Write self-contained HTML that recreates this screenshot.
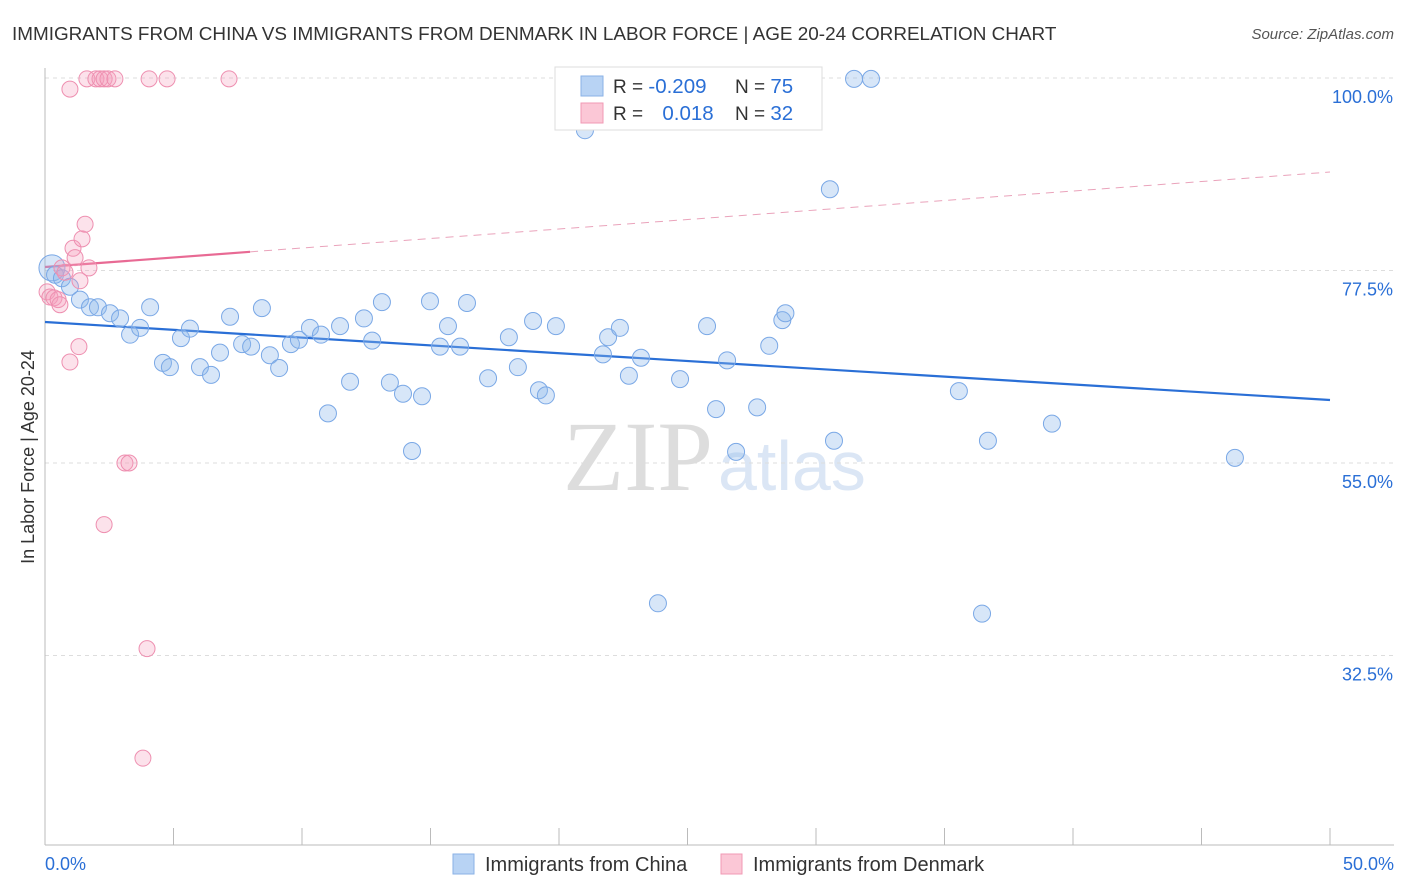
<!DOCTYPE html>
<html><head><meta charset="utf-8">
<style>
body{margin:0;background:#fff;font-family:"Liberation Sans",sans-serif;}
svg{display:block}
</style></head>
<body>
<svg id="chart" width="1406" height="892">
<text x="12" y="40" font-size="18.9" fill="#333">IMMIGRANTS FROM CHINA VS IMMIGRANTS FROM DENMARK IN LABOR FORCE | AGE 20-24 CORRELATION CHART</text>
<text x="1394" y="39" font-size="15" fill="#555" font-style="italic" text-anchor="end">Source: ZipAtlas.com</text>
<text x="713" y="490" font-size="100" fill="#ddd" text-anchor="end" font-family="Liberation Serif,serif">ZIP</text>
<text x="718" y="490" font-size="70" fill="#dbe6f5">atlas</text>
<text transform="translate(34,457) rotate(-90)" font-size="18" fill="#333" text-anchor="middle">In Labor Force | Age 20-24</text>
<g id="grid"></g><g id="axes"></g><g id="trend"></g><g id="pts"></g>
<g>
<rect x="555" y="67" width="267" height="63" fill="#fff" stroke="#ddd"/>
<rect x="581" y="76" width="22" height="20" fill="#b8d3f4" stroke="#8ab2e6"/>
<rect x="581" y="103" width="22" height="20" fill="#fbc7d6" stroke="#f09ab4"/>
<text x="613" y="93" font-size="19" fill="#333">R = <tspan fill="#2a6fd6" font-size="20.5">-0.209</tspan></text>
<text x="735" y="93" font-size="19" fill="#333">N = <tspan fill="#2a6fd6" font-size="20.5">75</tspan></text>
<text x="613" y="120" font-size="19" fill="#333">R = <tspan fill="#2a6fd6" font-size="20.5" dx="14">0.018</tspan></text>
<text x="735" y="120" font-size="19" fill="#333">N = <tspan fill="#2a6fd6" font-size="20.5">32</tspan></text>
</g>
<g>
<rect x="453" y="854" width="21" height="20" fill="#b8d3f4" stroke="#8ab2e6"/>
<text x="485" y="871" font-size="20" fill="#333">Immigrants from China</text>
<rect x="721" y="854" width="21" height="20" fill="#fbc7d6" stroke="#f09ab4"/>
<text x="753" y="871" font-size="20" fill="#333">Immigrants from Denmark</text>
</g>
</svg>
<script>
const yTicks=[100,77.5,55,32.5];
const xTickLabels=["0.0%","50.0%"];
const chinaX=[0.27,0.39,0.66,0.97,1.36,1.75,2.06,2.53,2.92,3.31,3.70,4.09,4.59,4.86,5.29,5.64,6.03,6.46,6.81,7.20,7.67,8.02,8.44,8.75,9.11,9.57,9.88,10.31,10.74,11.01,11.48,11.87,12.41,12.73,13.11,13.42,13.93,14.28,14.67,14.98,15.37,15.68,16.15,16.42,17.24,18.05,18.40,18.99,19.22,19.49,19.88,21.01,21.71,21.91,22.37,22.72,23.19,23.85,24.71,25.76,26.11,26.54,26.89,27.71,28.18,28.69,28.81,30.54,30.70,31.48,32.14,35.56,36.46,36.69,39.18,46.30];
const chinaY=[77.8,77.0,76.6,75.6,74.1,73.2,73.2,72.5,71.9,70.0,70.8,73.2,66.7,66.2,69.6,70.7,66.2,65.3,67.9,72.1,68.9,68.6,73.1,67.6,66.1,68.9,69.4,70.8,70.0,60.8,71.0,64.5,71.9,69.3,73.8,64.4,63.1,56.4,62.8,73.9,68.6,71.0,68.6,73.7,64.9,69.7,66.2,71.6,63.5,62.9,71.0,93.9,67.7,69.7,70.8,65.2,67.3,38.6,64.8,71.0,61.3,67.0,56.3,61.5,68.7,71.7,72.5,87.0,57.6,99.9,99.9,63.4,37.4,57.6,59.6,55.6];
const denX=[0.08,0.19,0.35,0.51,0.58,0.66,0.78,0.97,0.97,1.09,1.17,1.32,1.36,1.44,1.56,1.63,1.71,1.98,2.14,2.30,2.45,2.72,3.11,3.27,2.30,3.97,3.81,4.05,4.75,7.16];
const denY=[75.0,74.4,74.3,74.1,73.5,77.8,77.3,66.8,98.7,80.1,79.0,68.6,76.3,81.2,82.9,99.9,77.8,99.9,99.9,99.9,99.9,99.9,55.0,55.0,47.8,33.3,20.5,99.9,99.9,99.9];
const chinaTrend=[71.48,62.36];
const denTrend=[77.91,89.01];
const denSolidEnd=7.98;

const NS="http://www.w3.org/2000/svg";
const X=v=>45+v/50*1285;
const Y=v=>78+(100-v)/22.5*192.5;
function mk(tag,attrs,parent){const e=document.createElementNS(NS,tag);for(const k in attrs)e.setAttribute(k,attrs[k]);document.getElementById(parent).appendChild(e);return e;}
yTicks.forEach(t=>{
 const l=mk('line',{x1:45,x2:1394,y1:Y(t),y2:Y(t),stroke:'#ddd','stroke-dasharray':'4,4'},'grid');
 
 
 const tx=mk('text',{x:1393,y:Y(t)+25,'font-size':18,fill:'#2a6fd6','text-anchor':'end'},'grid');
 tx.textContent=t.toFixed(1)+'%';
 
 
});
mk('line',{x1:45,x2:45,y1:68,y2:845,stroke:'#bbb'},'axes');
mk('line',{x1:45,x2:1394,y1:845,y2:845,stroke:'#bbb'},'axes');
for(let i=0;i<=10;i++){mk('line',{x1:X(i*5),x2:X(i*5),y1:828,y2:845,stroke:'#bbb'},'axes');}
[[0,'start',45],[1,'end',1394]].forEach(([i,a,x])=>{
 const t=mk('text',{x:x,y:870,'font-size':18,fill:'#2a6fd6','text-anchor':a},'axes');
 t.textContent=xTickLabels[i];
 
 
});
const ct=mk('line',{x1:X(0),y1:Y(chinaTrend[0]),x2:X(50),y2:Y(chinaTrend[1]),stroke:'#2a6fd6','stroke-width':2.2},'trend');


const dY=x=>denTrend[0]+(denTrend[1]-denTrend[0])*x/50;
const ds=mk('line',{x1:X(0),y1:Y(denTrend[0]),x2:X(denSolidEnd),y2:Y(dY(denSolidEnd)),stroke:'#e86a94','stroke-width':2.2},'trend');


const dd=mk('line',{x1:X(denSolidEnd),y1:Y(dY(denSolidEnd)),x2:X(50),y2:Y(denTrend[1]),stroke:'#eaa3bb','stroke-width':1,'stroke-dasharray':'8,6'},'trend');


chinaX.forEach((x,i)=>{
 const c=mk('circle',{cx:X(x),cy:Y(chinaY[i]),r:i==0?13:8.5,fill:'rgba(140,182,236,0.35)',stroke:'#7aa8e6','stroke-width':1},'pts');
 
 
});
denX.forEach((x,i)=>{
 const c=mk('circle',{cx:X(x),cy:Y(denY[i]),r:8,fill:'rgba(246,160,188,0.3)',stroke:'#ee8fb0','stroke-width':1},'pts');
 
 
});
</script>
</body></html>
